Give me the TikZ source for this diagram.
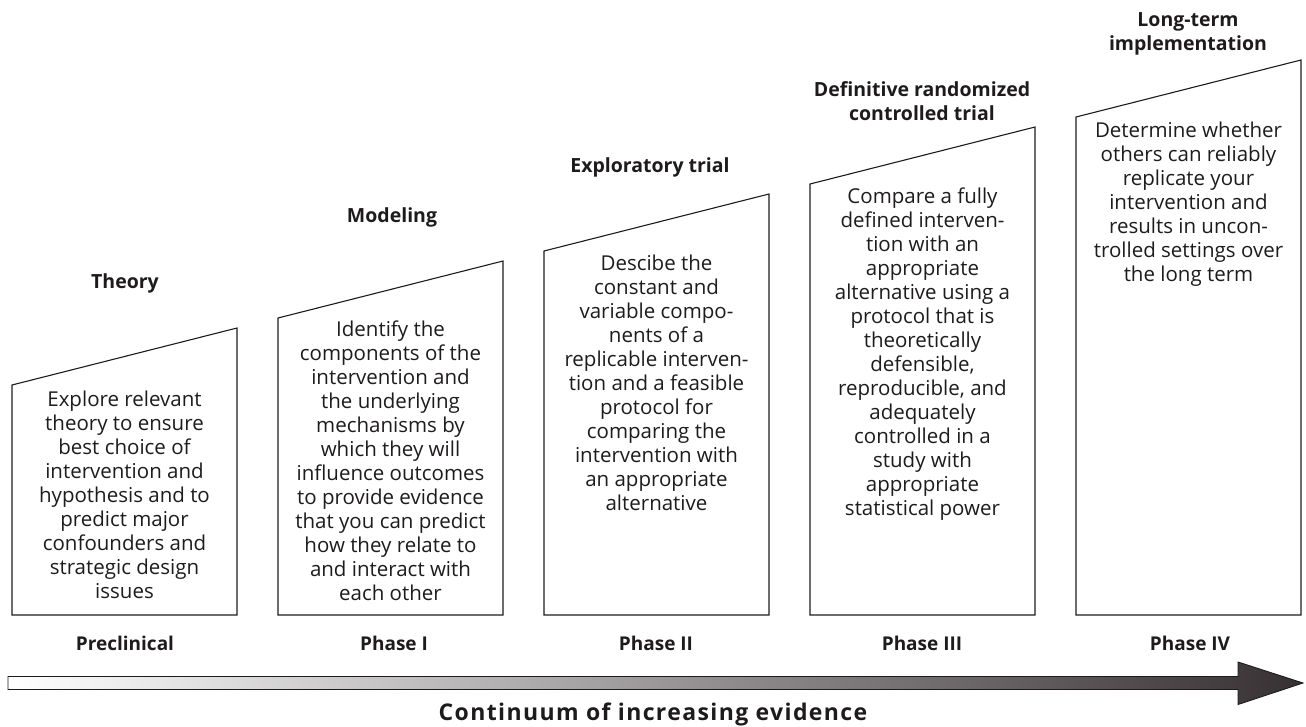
\documentclass[tikz,border=0pt]{standalone}
\usepackage{fontspec}
\setmainfont{Open Sans}
\usepackage{tikz}
\usetikzlibrary{arrows.meta}
\definecolor{arrowdark}{RGB}{55,48,50}
\definecolor{linegray}{RGB}{30,27,28}
\tikzset{
    every node/.style={align=center,inner sep=0pt,text=linegray},
    phasebox/.style={draw=linegray,line width=1.1pt,line join=miter},
    desc/.style={anchor=north,font=\fontsize{20.5}{24}\selectfont},
    title/.style={font=\fontsize{19.5}{23.5}\selectfont\bfseries},
    phase/.style={font=\fontsize{19}{21}\selectfont\bfseries},
    caption/.style={font=\fontsize{23}{25}\selectfont\bfseries\addfontfeatures{LetterSpace=6}},
}

\begin{document}
\begin{tikzpicture}[x=1pt,y=-1pt]
                \useasboundingbox (0,0) rectangle (1306,726);

                % trapezoid boxes, low on the left and rising to the right
                \draw[phasebox] (12,615) -- (12,385) -- (237,328) -- (237,615) -- cycle;
                \draw[phasebox] (278,615) -- (278,318) -- (503,261) -- (503,615) -- cycle;
                \draw[phasebox] (544,615) -- (544,251) -- (769,194) -- (769,615) -- cycle;
                \draw[phasebox] (810,615) -- (810,184) -- (1035,127) -- (1035,615) -- cycle;
                \draw[phasebox] (1076,615) -- (1076,117) -- (1301,60) -- (1301,615) -- cycle;

                \node[title] (theory) at (125,283) {Theory};
                \node[title] (modeling) at (392,217) {Modeling};
                \node[title] (exploratory) at (650,167) {Exploratory trial};
                \node[title] (definitive) at (922,101) {Definitive randomized\\controlled trial};
                \node[title] (longterm) at (1188,34) {Long-term\\implementation};

                \node[desc] (preclin_txt) at (124.5,391) {Explore relevant\\theory to ensure\\best choice of\\intervention and\\hypothesis and to\\predict major\\confounders and\\strategic design\\issues};
                \node[desc] (phase1_txt) at (390.5,321) {Identify the\\components of the\\intervention and\\the underlying\\mechanisms by\\which they will\\influence outcomes\\to provide evidence\\that you can predict\\how they relate to\\and interact with\\each other};
                \node[desc] (phase2_txt) at (656.5,255) {Descibe the\\constant and\\variable compo-\\nents of a\\replicable interven-\\tion and a feasible\\protocol for\\comparing the\\intervention with\\an appropriate\\alternative};
                \node[desc] (phase3_txt) at (922.5,188) {Compare a fully\\defined interven-\\tion with an\\appropriate\\alternative using a\\protocol that is\\theoretically\\defensible,\\reproducible, and\\adequately\\controlled in a\\study with\\appropriate\\statistical power};
                \node[desc] (phase4_txt) at (1188.5,122) {Determine whether\\others can reliably\\replicate your\\intervention and\\results in uncon-\\trolled settings over\\the long term};

                \node[phase] (preclin) at (125,643) {Preclinical};
                \node[phase] (phase1) at (394,643) {Phase I};
                \node[phase] (phase2) at (656,643) {Phase II};
                \node[phase] (phase3) at (922,643) {Phase III};
                \node[phase] (phase4) at (1190,643) {Phase IV};

                % shaded block arrow along the bottom
                \coordinate (arrow_start) at (8,683);
                \coordinate (head_base) at (1238,683);
                \coordinate (arrow_tip) at (1303,683);
                \draw[draw=linegray,line width=0.9pt,left color=white,right color=arrowdark]
                    (arrow_start |- 0,676.5) -- (head_base |- 0,676.5) -- (head_base |- 0,662)
                    -- (arrow_tip) -- (head_base |- 0,704.5) -- (head_base |- 0,689.5)
                    -- (arrow_start |- 0,689.5) -- cycle;

                \node[caption] (continuum) at (653,714) {Continuum of increasing evidence};
            \end{tikzpicture}
\end{document}
